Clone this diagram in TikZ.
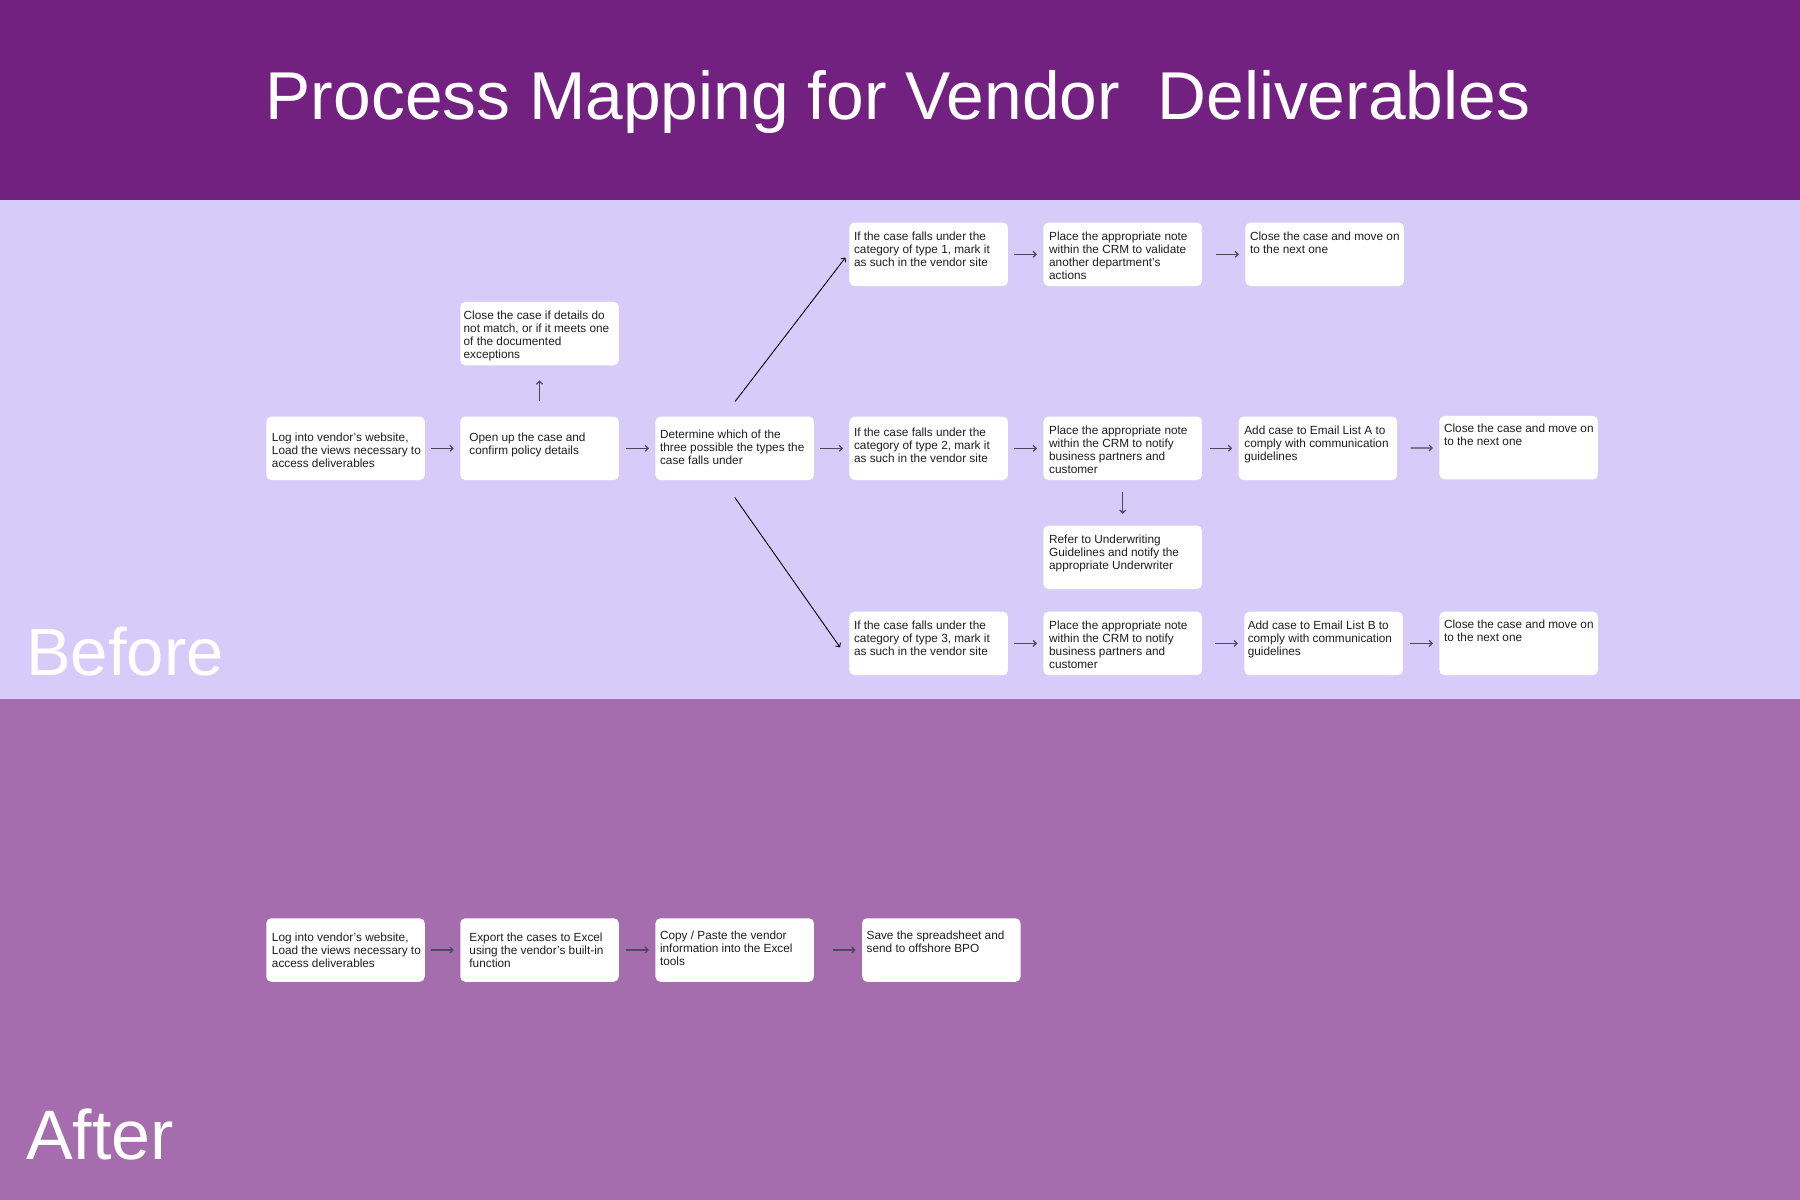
\documentclass[tikz,border=0pt]{standalone}
\usepackage{fontspec}
\setmainfont{Liberation Sans}
\usetikzlibrary{arrows.meta}

\definecolor{bandtop}{HTML}{732181}
\definecolor{bandbefore}{HTML}{D6CCFA}
\definecolor{bandafter}{HTML}{A56DAD}
\definecolor{arrowgray}{HTML}{4D4759}
\definecolor{inkgray}{HTML}{1E1E1E}

% text inside a card: left pad, top pad, lines
\newcommand{\cardtext}[3]{\parbox[c][63.5pt][t]{158.5pt}{\vspace*{#2}\noindent\hspace*{#1}\begin{tabular}[t]{@{}l@{}}#3\end{tabular}}}

\begin{document}
\begin{tikzpicture}[
  x=1pt, y=-1pt,
  card/.style={rectangle, rounded corners=5pt, fill=white, text=inkgray, inner sep=0pt, font=\fontsize{11.8}{13}\selectfont},
  e/.style={draw=arrowgray, line width=1.2pt, -{Straight Barb[length=3pt,width=6pt]}, shorten <=6.3pt, shorten >=6.3pt},
  d/.style={draw=black, line width=0.9pt, -{Straight Barb[length=3pt,width=6pt]}},
  big/.style={text=white, inner sep=0pt}
]
\useasboundingbox (0,0) rectangle (1800,1200);

% --- Bands ---
\fill[bandtop]    (0,0)   rectangle (1800,200);
\fill[bandbefore] (0,200) rectangle (1800,699);
\fill[bandafter]  (0,699) rectangle (1800,1200);

\node[big, anchor=base, font=\fontsize{67.7}{70}\selectfont] (title) at (898,119.4) {Process Mapping for Vendor \ Deliverables};
\node[big, anchor=base west, font=\fontsize{67}{70}\selectfont] (before) at (26,675) {Before};
\node[big, anchor=base west, font=\fontsize{70}{72}\selectfont] (after) at (26,1159) {After};

% (card centres, from the reference layout)
\coordinate (log) at (345.5,448.3);
\coordinate (open) at (539.5,448.3);
\coordinate (closeif) at (539.5,333.5);
\coordinate (det) at (734.7,448.3);
\coordinate (t1) at (928.7,254.3);
\coordinate (p1) at (1122.7,254.3);
\coordinate (c1) at (1324.7,254.3);
\coordinate (t2) at (928.7,448.3);
\coordinate (p2) at (1122.7,448.3);
\coordinate (lA) at (1317.9,448.3);
\coordinate (c2) at (1518.7,447.7);
\coordinate (refer) at (1122.7,557.3);
\coordinate (t3) at (928.7,643.4);
\coordinate (p3) at (1122.7,643.4);
\coordinate (lB) at (1323.6,643.4);
\coordinate (c3) at (1518.7,643.4);
\coordinate (alog) at (345.5,950);
\coordinate (aexp) at (539.5,950);
\coordinate (acopy) at (734.7,950);
\coordinate (asave) at (941.3,950);

% --- Nodes (before) ---
\node[card] (log) at (log) {\cardtext{5.7pt}{15.5pt}{Log into vendor’s website,\\Load the views necessary to\\access deliverables}};
\node[card] (open) at (open) {\cardtext{9.2pt}{15.5pt}{Open up the case and\\confirm policy details}};
\node[card] (closeif) at (closeif) {\cardtext{3.4pt}{8.6pt}{Close the case if details do\\not match, or if it meets one\\of the documented\\exceptions}};
\node[card] (det) at (det) {\cardtext{4.6pt}{13.2pt}{Determine which of the\\three possible the types the\\case falls under}};
\node[card] (t1) at (t1) {\cardtext{4.6pt}{8.6pt}{If the case falls under the\\category of type 1, mark it\\as such in the vendor site}};
\node[card] (p1) at (p1) {\cardtext{5.7pt}{8.6pt}{Place the appropriate note\\within the CRM to validate\\another department’s\\actions}};
\node[card] (c1) at (c1) {\cardtext{4.6pt}{8.6pt}{Close the case and move on\\to the next one}};
\node[card] (t2) at (t2) {\cardtext{4.6pt}{10.9pt}{If the case falls under the\\category of type 2, mark it\\as such in the vendor site}};
\node[card] (p2) at (p2) {\cardtext{5.7pt}{8.6pt}{Place the appropriate note\\within the CRM to notify\\business partners and\\customer}};
\node[card] (lA) at (lA) {\cardtext{5.7pt}{8.6pt}{Add case to Email List A to\\comply with communication\\guidelines}};
\node[card] (c2) at (c2) {\cardtext{4.6pt}{7.5pt}{Close the case and move on\\to the next one}};
\node[card] (refer) at (refer) {\cardtext{5.7pt}{8.6pt}{Refer to Underwriting\\Guidelines and notify the\\appropriate Underwriter}};
\node[card] (t3) at (t3) {\cardtext{4.6pt}{8.6pt}{If the case falls under the\\category of type 3, mark it\\as such in the vendor site}};
\node[card] (p3) at (p3) {\cardtext{5.7pt}{8.6pt}{Place the appropriate note\\within the CRM to notify\\business partners and\\customer}};
\node[card] (lB) at (lB) {\cardtext{3.4pt}{8.6pt}{Add case to Email List B to\\comply with communication\\guidelines}};
\node[card] (c3) at (c3) {\cardtext{4.6pt}{7.5pt}{Close the case and move on\\to the next one}};

% --- Nodes (after) ---
\node[card] (alog) at (alog) {\cardtext{5.7pt}{14.4pt}{Log into vendor’s website,\\Load the views necessary to\\access deliverables}};
\node[card] (aexp) at (aexp) {\cardtext{9.2pt}{14.4pt}{Export the cases to Excel\\using the vendor’s built-in\\function}};
\node[card] (acopy) at (acopy) {\cardtext{4.6pt}{12.1pt}{Copy / Paste the vendor\\information into the Excel\\tools}};
\node[card] (asave) at (asave) {\cardtext{4.6pt}{12.1pt}{Save the spreadsheet and\\send to offshore BPO}};

% --- Edges ---
\path[e] (log) -- (open);
\path[e, shorten <=7.4pt] (open) -- (det);
\path[e, shorten <=15pt, shorten >=15pt] (open) -- (closeif);
\path[d, shorten <=18.8pt, shorten >=6.3pt] ([xshift=-11pt]det.north) -- ([yshift=1.7pt]t1.west);
\path[e] (det) -- (t2);
\path[d, shorten <=21pt, shorten >=16pt] ([xshift=-12pt]det.south) -- ([yshift=-17pt]t3.west);
\path[e] (t1) -- (p1);
\path[e, shorten <=14.3pt] (p1) -- (c1);
\path[e] (t2) -- (p2);
\path[e, shorten <=7.4pt] (p2) -- (lA);
\path[e, shorten <=13.2pt] (lA) -- (c2);
\path[e, shorten <=11.5pt, shorten >=11.5pt] (p2) -- (refer);
\path[e] (t3) -- (p3);
\path[e, shorten <=13.2pt] (p3) -- (lB);
\path[e, shorten <=7.4pt] (lB) -- (c3);
\path[e] (alog) -- (aexp);
\path[e, shorten <=7.4pt] (aexp) -- (acopy);
\path[e, shorten <=19pt] (acopy) -- (asave);

\end{tikzpicture}
\end{document}
